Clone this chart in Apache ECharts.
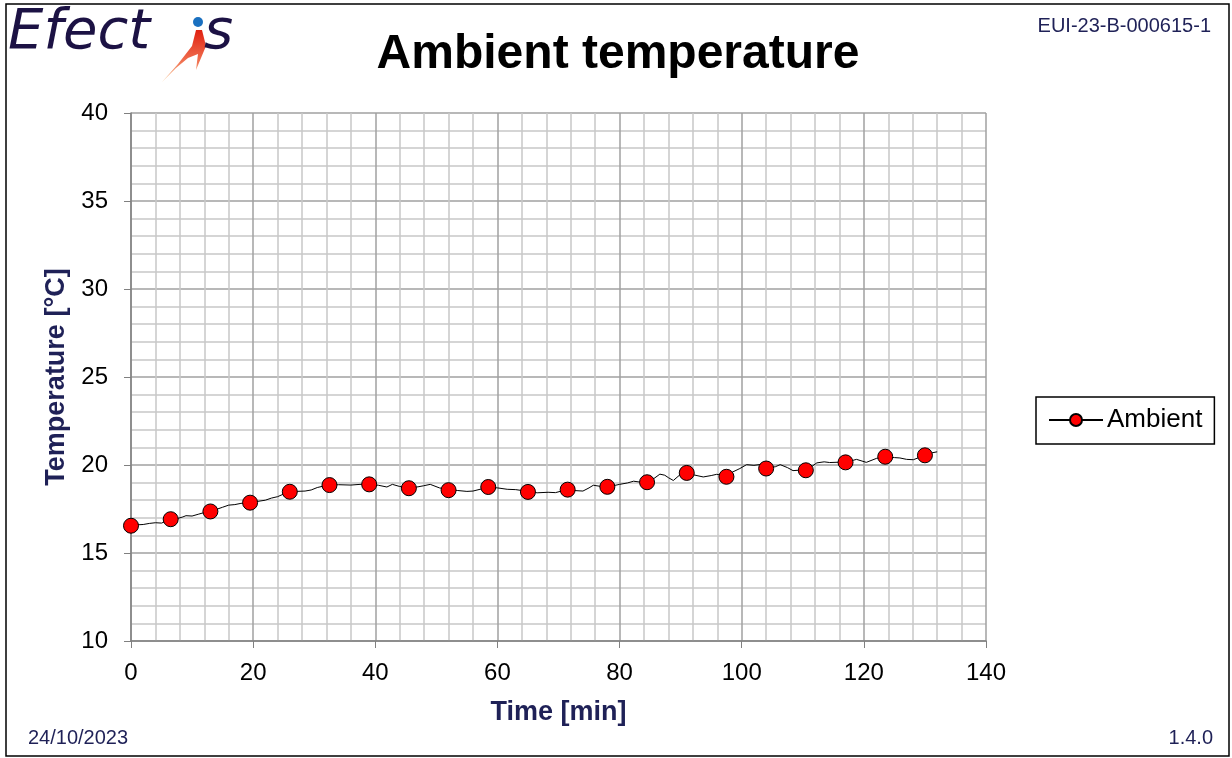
<!DOCTYPE html>
<html>
<head>
<meta charset="utf-8">
<script src="https://cdn.jsdelivr.net/npm/echarts@6/dist/echarts.min.js"></script>
<style>
  html, body { margin: 0; padding: 0; background: #fff; }
  #chart { width: 1232px; height: 758px; }
</style>
</head>
<body>
<div id="chart"></div>
<script>
var chartDom = document.getElementById('chart');
var myChart = echarts.init(chartDom);

// measured curve (minutes, °C)
var lineTimes = [0, 1, 2, 3, 4, 5, 6, 6.5, 7.5, 8.5, 9, 10, 11, 12, 13, 14, 15, 16, 17, 18,
  19.5, 20.5, 22, 23, 24, 25, 26, 27, 28.5, 29.5, 30.5, 31.5, 32.5, 34, 36, 37.5, 39, 40.5,
  41.9, 42.8, 44, 45.5, 47, 47.9, 49, 50.5, 52, 53.5, 55, 56, 57.5, 58.5, 60, 61.6, 63, 65,
  66.5, 68.3, 69.5, 70.5, 71.5, 72.5, 74, 75, 75.7, 77, 78, 80, 81.3, 82.3, 83.5, 84.5, 85.5,
  86.6, 87.4, 88, 88.8, 89.9, 91, 92, 93.7, 95, 95.9, 97.5, 98.5, 99.7, 100.8, 102, 103.5,
  104.5, 105.5, 106.3, 107.5, 108.4, 110, 111, 112.3, 113.5, 114.4, 116, 117, 118.8, 120.4,
  122.1, 123.5, 125, 125.9, 127, 128.1, 129, 129.8, 131, 132];
var lineTemps = [16.53, 16.6, 16.62, 16.68, 16.72, 16.7, 16.85, 16.9, 16.95, 17.05, 17.12, 17.1,
  17.2, 17.3, 17.35, 17.48, 17.6, 17.72, 17.75, 17.82, 17.88, 17.92, 18.0, 18.12, 18.2, 18.35,
  18.46, 18.5, 18.52, 18.58, 18.72, 18.8, 18.86, 18.88, 18.86, 18.9, 18.9, 18.85, 18.75, 18.9,
  18.78, 18.7, 18.76, 18.82, 18.9, 18.7, 18.6, 18.55, 18.5, 18.52, 18.65, 18.72, 18.7, 18.62,
  18.6, 18.5, 18.42, 18.45, 18.43, 18.52, 18.58, 18.55, 18.52, 18.7, 18.85, 18.78, 18.75, 18.9,
  18.98, 19.08, 19.02, 19.0, 19.2, 19.48, 19.42, 19.28, 19.12, 19.45, 19.52, 19.45, 19.32, 19.4,
  19.47, 19.38, 19.6, 19.8, 20.02, 19.98, 20.05, 19.85, 19.9, 20.02, 19.85, 19.68, 19.72, 19.8,
  20.12, 20.18, 20.14, 20.16, 20.15, 20.32, 20.15, 20.38, 20.44, 20.42, 20.4, 20.32, 20.3,
  20.42, 20.55, 20.68, 20.75];

// sampled markers
var markerTimes = [0, 6.5, 13, 19.5, 26, 32.5, 39, 45.5, 52, 58.5, 65, 71.5, 78, 84.5, 91,
  97.5, 104, 110.5, 117, 123.5, 130];
var markerTemps = [16.55, 16.92, 17.36, 17.86, 18.48, 18.86, 18.9, 18.68, 18.57, 18.75, 18.47,
  18.6, 18.76, 19.02, 19.55, 19.33, 19.8, 19.7, 20.15, 20.47, 20.55];

var xTicks = { min: 0, max: 140, interval: 20 };
var yTicks = { min: 10, max: 40, interval: 5 };

var navy = '#1f2157';
var font = 'Liberation Sans, Arial, sans-serif';

var lineData = lineTimes.map(function (t, i) { return [t, lineTemps[i]]; });
var markerData = markerTimes.map(function (t, i) { return [t, markerTemps[i]]; });

var option = {
  backgroundColor: '#fff',
  animation: false,
  textStyle: { fontFamily: font },
  title: {
    text: 'Ambient temperature',
    left: 613,
    top: 26,
    textAlign: 'center',
    textStyle: { fontSize: 48, fontWeight: 'bold', color: '#000', fontFamily: font }
  },
  grid: { left: 131, right: 246, top: 113, bottom: 117 },
  legend: {
    data: ['Ambient'],
    orient: 'vertical',
    left: 1036,
    top: 397,
    padding: [10, 12, 11, 12],
    borderColor: '#000',
    borderWidth: 1.5,
    borderRadius: 0,
    itemWidth: 54,
    itemHeight: 15,
    itemGap: 6,
    textStyle: { fontSize: 26, color: '#000', fontFamily: font, padding: [0, 0, 0, -1] }
  },
  xAxis: {
    type: 'value',
    min: xTicks.min,
    max: xTicks.max,
    interval: xTicks.interval,
    name: 'Time [min]',
    nameLocation: 'middle',
    nameGap: 58,
    nameTextStyle: { fontSize: 27, fontWeight: 'bold', color: navy, fontFamily: font },
    axisLine: { show: true, onZero: false, lineStyle: { color: '#808080', width: 1.5 } },
    axisTick: { show: true, inside: false, length: 7, lineStyle: { color: '#808080' } },
    axisLabel: { fontSize: 24, color: '#000', margin: 20, fontFamily: font },
    splitLine: { show: true, lineStyle: { color: '#a0a0a0', width: 1.5 } },
    minorTick: { show: false, splitNumber: 5 },
    minorSplitLine: { show: true, lineStyle: { color: '#c8c8c8', width: 1.5 } }
  },
  yAxis: {
    type: 'value',
    min: yTicks.min,
    max: yTicks.max,
    interval: yTicks.interval,
    name: 'Temperature [°C]',
    nameLocation: 'middle',
    nameGap: 61,
    nameTextStyle: { fontSize: 27, fontWeight: 'bold', color: navy, fontFamily: font },
    axisLine: { show: true, lineStyle: { color: '#808080', width: 1.5 } },
    axisTick: { show: true, inside: false, length: 7, lineStyle: { color: '#808080' } },
    axisLabel: { fontSize: 24, color: '#000', margin: 23, fontFamily: font },
    splitLine: { show: true, lineStyle: { color: '#a0a0a0', width: 1.5 } },
    minorTick: { show: false, splitNumber: 5 },
    minorSplitLine: { show: true, lineStyle: { color: '#c8c8c8', width: 1.5 } }
  },
  series: [
    {
      name: 'Ambient',
      type: 'line',
      data: lineData,
      showSymbol: false,
      symbol: 'circle',
      symbolSize: 15,
      itemStyle: { color: '#ff0000', borderColor: '#000', borderWidth: 1 },
      lineStyle: { color: '#000', width: 1 },
      z: 2
    },
    {
      name: 'Ambient markers',
      type: 'scatter',
      data: markerData,
      symbol: 'circle',
      symbolSize: 15,
      itemStyle: { color: '#ff0000', borderColor: '#000', borderWidth: 1, opacity: 1 },
      z: 3
    }
  ],
  graphic: [
    {
      type: 'rect',
      shape: { x: 6, y: 4, width: 1223, height: 752 },
      style: { fill: 'none', stroke: '#000', lineWidth: 1.5 },
      silent: true
    },
    {
      type: 'text',
      left: 8,
      top: 5,
      style: { text: 'Efect', fontSize: 56, fontStyle: 'italic', fontFamily: 'DejaVu Sans', fill: '#1c1244' }
    },
    {
      type: 'polygon',
      shape: { points: [[196, 30], [192, 46], [178, 64], [162, 82], [176, 68], [188, 58], [198, 54], [196, 70], [206, 46], [202, 30]] },
      style: {
        fill: new echarts.graphic.LinearGradient(0, 0, 0, 1, [
          { offset: 0, color: '#e02010' },
          { offset: 0.6, color: '#f07050' },
          { offset: 1, color: '#fbd0a0' }
        ])
      }
    },
    {
      type: 'circle',
      shape: { cx: 198, cy: 22, r: 5 },
      style: { fill: '#1a70c0' }
    },
    {
      type: 'text',
      left: 204,
      top: 5,
      style: { text: 's', fontSize: 56, fontStyle: 'italic', fontFamily: 'DejaVu Sans', fill: '#1c1244' }
    },
    {
      type: 'text',
      right: 21,
      top: 16,
      style: { text: 'EUI-23-B-000615-1', fontSize: 20, fontFamily: font, fill: navy }
    },
    {
      type: 'text',
      left: 28,
      top: 728,
      style: { text: '24/10/2023', fontSize: 20, fontFamily: font, fill: navy }
    },
    {
      type: 'text',
      right: 19,
      top: 728,
      style: { text: '1.4.0', fontSize: 20, fontFamily: font, fill: navy }
    }
  ]
};

myChart.setOption(option);
</script>
</body>
</html>
